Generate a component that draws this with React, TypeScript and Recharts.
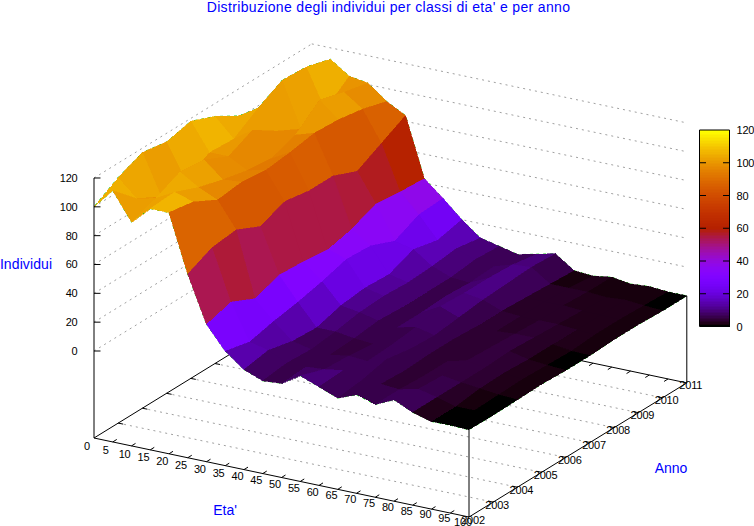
import React from "react";
import { ScatterChart, Scatter, XAxis, YAxis } from "recharts";

const TITLE = "Distribuzione degli individui per classi di eta' e per anno";
const ages = [0,5,10,15,20,25,30,35,40,45,50,55,60,65,70,75,80,85,90,95,100];
const years = [2002,2003,2004,2005,2006,2007,2008,2009,2010,2011];
const zTicks = [0,20,40,60,80,100,120];
const age0 = [100,110,117,114,118,111,101,90,85,80];
const age5 = [114,98,89,90,99,98,109,118,117,112];
const age10 = [95,101,109,107,99,107,96,87,90,103];
const age15 = [107,108,101,96,92,90,96,110,105,101];
const age20 = [107,104,95,97,95,97,100,99,96,91];
const age25 = [67,75,77,69,76,73,73,66,75,84];
const age30 = [35,40,32,38,37,35,39,46,44,43];
const age35 = [19,15,19,22,26,31,30,23,31,32];
const age40 = [9,12,8,7,12,14,13,20,16,20];
const age45 = [4,6,5,7,10,11,10,11,13,10];
const age50 = [5,6,4,5,7,6,6,6,8,7];
const age55 = [13,7,6,4,5,5,6,5,6,4];
const age60 = [8,9,5,6,8,12,11,11,10,7];
const age65 = [3,5,9,6,5,7,9,10,11,10];
const age70 = [8,5,4,5,5,4,4,3,2,1];
const age75 = [4,4,3,3,3,3,3,3,2,0];
const age80 = [10,7,6,6,5,4,3,3,2,2];
const age85 = [4,4,4,4,5,4,3,2,1,0];
const age90 = [0.4,0.4,2.5,3,2,2,2,2,2,1];
const age95 = [0.6,0.4,1,1.5,0.8,0.2,1.5,1.5,0.8,0];
const age100 = [0.2,0,0.3,0.8,0,0,0.8,0.8,0,0];
const rows = [age0,age5,age10,age15,age20,age25,age30,age35,age40,age45,age50,age55,age60,age65,age70,age75,age80,age85,age90,age95,age100];

const W = 754, H = 526;
const FONT = "'Liberation Sans', Arial, sans-serif";
const projX = (age: number, k: number) => 94 + 3.75 * age + 24.2 * k;
const projY = (age: number, k: number, z: number) => 351 + 0.79 * age - 14.9 * k - 1.4417 * z;
const BASE = 87;

const LEVELS = 128;
function palette(z: number) {
  let g = Math.max(0, Math.min(1, z / 120));
  g = Math.round(g * (LEVELS - 1)) / (LEVELS - 1);
  const r = Math.sqrt(g), gr = g * g * g, b = Math.max(0, Math.sin(2 * Math.PI * g));
  const h = (v: number) => Math.round(v * 255);
  return `rgb(${h(r)},${h(gr)},${h(b)})`;
}

type Quad = { px: number; py: number; off: number[][]; fill: string };
const quads: Quad[] = [];
for (let a = 0; a < ages.length - 1; a++) {
  for (let k = years.length - 2; k >= 0; k--) {
    const c = [[a, k], [a + 1, k], [a + 1, k + 1], [a, k + 1]];
    const pts = c.map(([i, j]) => [projX(ages[i], j), projY(ages[i], j, rows[i][j])]);
    const mean = c.reduce((s, [i, j]) => s + rows[i][j], 0) / 4;
    quads.push({ px: pts[0][0], py: pts[0][1], off: pts.map((p) => [p[0] - pts[0][0], p[1] - pts[0][1]]), fill: palette(mean) });
  }
}

type Seg = { px: number; py: number; dx: number; dy: number };
const seg = (x1: number, y1: number, x2: number, y2: number): Seg => ({ px: x1, py: y1, dx: x2 - x1, dy: y2 - y1 });

const K = years.length - 1;
const dotted: Seg[] = [];
zTicks.forEach((z) => {
  dotted.push(seg(projX(0, 0), projY(0, 0, z), projX(0, K), projY(0, K, z)));
  dotted.push(seg(projX(0, K), projY(0, K, z), projX(100, K), projY(100, K, z)));
});
years.forEach((_, k) => {
  if (k > 0 && k < K) dotted.push(seg(projX(0, k), projY(0, k, 0) + BASE, projX(100, k), projY(100, k, 0) + BASE));
});

const backAxes: Seg[] = [
  seg(projX(0, 0), projY(0, 0, 0) + BASE, projX(0, K), projY(0, K, 0) + BASE),
  seg(projX(0, K), projY(0, K, 0) + BASE, projX(100, K), projY(100, K, 0) + BASE),
];
ages.forEach((a) => {
  if (a > 0 && a < 100) backAxes.push(seg(projX(a, K), projY(a, K, 0) + BASE, projX(a, K) - 4, projY(a, K, 0) + BASE + 2.5));
});
years.forEach((_, k) => {
  if (k > 0 && k < K) backAxes.push(seg(projX(0, k), projY(0, k, 0) + BASE, projX(0, k) + 5, projY(0, k, 0) + BASE + 1));
});

const frontAxes: Seg[] = [
  seg(94, projY(0, 0, 120), 94, projY(0, 0, 0) + BASE),
  seg(projX(0, 0), projY(0, 0, 0) + BASE, projX(100, 0), projY(100, 0, 0) + BASE),
  seg(projX(100, 0), projY(100, 0, 0) + BASE, projX(100, K), projY(100, K, 0) + BASE),
  seg(projX(100, 0), projY(100, 0, rows[20][0]), projX(100, 0), projY(100, 0, 0) + BASE),
  seg(projX(100, K), projY(100, K, rows[20][K]), projX(100, K), projY(100, K, 0) + BASE),
];
zTicks.forEach((z) => frontAxes.push(seg(94, projY(0, 0, z), 100.5, projY(0, 0, z))));
ages.forEach((a) => {
  if (a > 0 && a < 100) frontAxes.push(seg(projX(a, 0), projY(a, 0, 0) + BASE, projX(a, 0) + 4, projY(a, 0, 0) + BASE - 2.5));
});
years.forEach((_, k) => {
  if (k > 0 && k < K) frontAxes.push(seg(projX(100, k), projY(100, k, 0) + BASE, projX(100, k) - 5, projY(100, k, 0) + BASE - 1));
});

const CB = { x: 699.5, w: 30, top: 130, bottom: 326.5 };
const cbY = (z: number) => CB.bottom - (z / 120) * (CB.bottom - CB.top);
const cbCells: { px: number; py: number; w: number; h: number; fill: string }[] = [];
for (let i = 0; i < LEVELS; i++) {
  const lo = (i * 120) / LEVELS, hi = ((i + 1) * 120) / LEVELS;
  cbCells.push({ px: CB.x, py: cbY(hi), w: CB.w, h: cbY(lo) - cbY(hi) + 0.5, fill: palette((lo + hi) / 2) });
}
const cbLines: Seg[] = [
  seg(CB.x, CB.top, CB.x + CB.w, CB.top), seg(CB.x + CB.w, CB.top, CB.x + CB.w, CB.bottom),
  seg(CB.x + CB.w, CB.bottom, CB.x, CB.bottom), seg(CB.x, CB.bottom, CB.x, CB.top),
];
zTicks.forEach((z) => {
  if (z > 0 && z < 120) {
    cbLines.push(seg(CB.x, cbY(z), CB.x + 6.5, cbY(z)));
    cbLines.push(seg(CB.x + CB.w - 6.5, cbY(z), CB.x + CB.w, cbY(z)));
  }
});

type Lab = { px: number; py: number; text: string; color: string; size: number; anchor: string; spacing?: number };
const BLUE = "#0000ff", INK = "#000000";
const labels: Lab[] = [
  { px: 388.5, py: 7, text: TITLE, color: BLUE, size: 14, anchor: "middle", spacing: 0.34 },
  { px: 225, py: 510, text: "Eta'", color: BLUE, size: 14, anchor: "middle" },
  { px: 671, py: 468, text: "Anno", color: BLUE, size: 14, anchor: "middle" },
  { px: 26, py: 264, text: "Individui", color: BLUE, size: 14, anchor: "middle", spacing: 0.1 },
];
zTicks.forEach((z) => labels.push({ px: 77.5, py: projY(0, 0, z), text: String(z), color: INK, size: 11, anchor: "end", spacing: -0.2 }));
zTicks.forEach((z) => labels.push({ px: 736.5, py: cbY(z), text: String(z), color: INK, size: 11, anchor: "start", spacing: -0.2 }));
ages.forEach((a) => labels.push({ px: 87 + 3.76 * a, py: 446 + 0.76 * a, text: String(a), color: INK, size: 11, anchor: "middle", spacing: -0.2 }));
years.forEach((y, k) => labels.push({ px: projX(100, k) + 4, py: projY(100, k, 0) + BASE + 2.5, text: String(y), color: INK, size: 11, anchor: "middle", spacing: -0.2 }));

const SegShape = (stroke: string, dash?: string) => (p: any) => (
  <line x1={p.cx} y1={p.cy} x2={p.cx + p.payload.dx} y2={p.cy + p.payload.dy} stroke={stroke} strokeWidth={1} strokeDasharray={dash} />
);
const polyPts = (p: any) => p.payload.off.map((o: number[]) => `${p.cx + o[0]},${p.cy + o[1]}`).join(" ");
const GreenShape = (p: any) => <polygon points={polyPts(p)} fill="none" stroke="#00c000" strokeWidth={1} strokeDasharray="3 4" />;
const QuadShape = (p: any) => <polygon points={polyPts(p)} fill={p.payload.fill} stroke={p.payload.fill} strokeWidth={0.6} shapeRendering="crispEdges" />;
const CellShape = (p: any) => <rect x={p.cx} y={p.cy} width={p.payload.w} height={p.payload.h} fill={p.payload.fill} shapeRendering="crispEdges" />;
const LabShape = (p: any) => (
  <text x={p.cx} y={p.cy} fill={p.payload.color} fontSize={p.payload.size} fontFamily={FONT} textAnchor={p.payload.anchor} dominantBaseline="central" letterSpacing={p.payload.spacing}>{p.payload.text}</text>
);

export default function App() {
  return (
    <div style={{ position: "absolute", left: 0, top: 0, width: W, height: H, background: "#fff" }}>
      <ScatterChart width={W} height={H} margin={{ top: 0, right: 0, bottom: 0, left: 0 }}>
        <XAxis type="number" dataKey="px" domain={[0, W]} hide />
        <YAxis type="number" dataKey="py" domain={[0, H]} reversed hide />
        <Scatter data={dotted} shape={SegShape("#a0a0a0", "2 4")} isAnimationActive={false} />
        <Scatter data={backAxes} shape={SegShape("#000")} isAnimationActive={false} />
        <Scatter data={quads} shape={GreenShape} isAnimationActive={false} />
        <Scatter data={quads} shape={QuadShape} isAnimationActive={false} />
        <Scatter data={frontAxes} shape={SegShape("#000")} isAnimationActive={false} />
        <Scatter data={cbCells} shape={CellShape} isAnimationActive={false} />
        <Scatter data={cbLines} shape={SegShape("#000")} isAnimationActive={false} />
        <Scatter data={labels} shape={LabShape} isAnimationActive={false} />
      </ScatterChart>
    </div>
  );
}
